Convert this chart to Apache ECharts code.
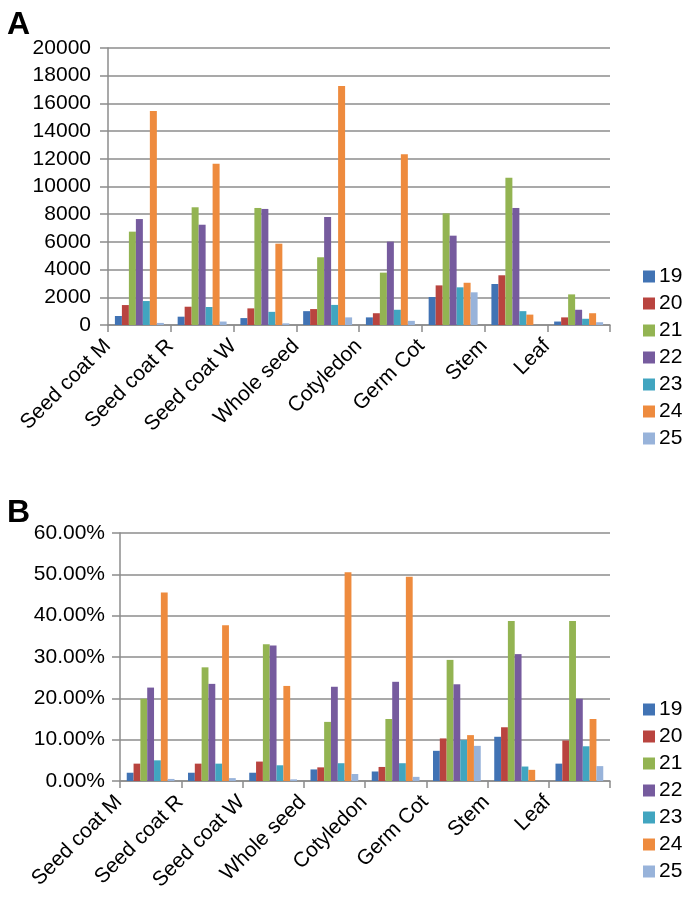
<!DOCTYPE html>
<html><head><meta charset="utf-8">
<script src="https://cdn.jsdelivr.net/npm/echarts@6/dist/echarts.min.js"></script>
<style>html,body{margin:0;padding:0;background:#fff}#c{width:685px;height:905px}</style>
</head><body><div id="c"></div>
<script>
const categories = ['Seed coat M','Seed coat R','Seed coat W','Whole seed','Cotyledon','Germ Cot','Stem','Leaf'];
const seriesNames = ['19','20','21','22','23','24','25'];
const colors = ['#4173B4','#B9443F','#93B452','#765B9E','#41A5C0','#EE8B3E','#98B3DA'];

// Panel A: counts
const a19 = [650, 600, 500, 1000, 550, 2020, 2960, 250];
const a20 = [1440, 1320, 1200, 1150, 850, 2860, 3590, 550];
const a21 = [6740, 8500, 8450, 4890, 3780, 8060, 10640, 2210];
const a22 = [7650, 7240, 8380, 7800, 6020, 6450, 8450, 1100];
const a23 = [1730, 1300, 950, 1450, 1100, 2720, 1000, 450];
const a24 = [15450, 11650, 5870, 17260, 12320, 3050, 750, 850];
const a25 = [150, 250, 120, 550, 300, 2360, 0, 200];

// Panel B: percentages
const b19 = [2.0, 2.0, 2.0, 2.8, 2.3, 7.3, 10.7, 4.2];
const b20 = [4.2, 4.2, 4.7, 3.3, 3.4, 10.3, 13.0, 9.8];
const b21 = [19.9, 27.5, 33.1, 14.3, 15.0, 29.3, 38.7, 38.7];
const b22 = [22.6, 23.5, 32.8, 22.8, 24.0, 23.4, 30.7, 19.9];
const b23 = [5.0, 4.2, 3.8, 4.3, 4.3, 9.9, 3.5, 8.4];
const b24 = [45.6, 37.7, 23.0, 50.5, 49.4, 11.1, 2.7, 15.0];
const b25 = [0.5, 0.7, 0.4, 1.7, 1.0, 8.5, 0, 3.6];

const aData = [a19,a20,a21,a22,a23,a24,a25];
const bData = [b19,b20,b21,b22,b23,b24,b25];

const FONT = "'Liberation Sans', Arial, Helvetica, sans-serif";
const gridColor = '#8c8c8c';

function xAxis(gi){
  return {
    type:'category', gridIndex:gi, data:categories,
    axisLine:{lineStyle:{color:gridColor,width:1.5}},
    axisTick:{show:true,length:7,lineStyle:{color:gridColor,width:1.5}},
    axisLabel:{rotate:45,fontSize:21,color:'#000',fontFamily:FONT,margin:-14,interval:0,
      padding:[0,45,42,0]}
  };
}
function yAxis(gi,max,interval,fmt,margin){
  return {
    type:'value', gridIndex:gi, min:0, max:max, interval:interval,
    axisLine:{show:true,lineStyle:{color:gridColor,width:1.5}},
    axisTick:{show:true,length:8,lineStyle:{color:gridColor,width:1.5}},
    splitLine:{show:true,lineStyle:{color:gridColor,width:1.5}},
    axisLabel:{fontSize:21,color:'#000',fontFamily:FONT,margin:margin,formatter:fmt}
  };
}

const series = [];
seriesNames.forEach((n,i)=>{
  series.push({name:n,type:'bar',xAxisIndex:0,yAxisIndex:0,data:aData[i],
    itemStyle:{color:colors[i]},barGap:'0%',barCategoryGap:'22%',animation:false});
});
seriesNames.forEach((n,i)=>{
  series.push({name:n,type:'bar',xAxisIndex:1,yAxisIndex:1,data:bData[i],
    itemStyle:{color:colors[i]},barGap:'0%',barCategoryGap:'22%',animation:false});
});

function legend(top){
  return {orient:'vertical',left:638,top:top,itemWidth:12,itemHeight:12,itemGap:6,
    icon:'rect',data:seriesNames,selectedMode:false,
    textStyle:{fontSize:21,color:'#000',fontFamily:FONT,padding:[0,0,0,-1]}};
}

const chart = echarts.init(document.getElementById('c'),null,{renderer:'canvas'});
chart.setOption({
  animation:false,
  backgroundColor:'#fff',
  title:[
    {text:'A',left:2,top:4,textStyle:{fontSize:32,fontWeight:'bold',color:'#000',fontFamily:FONT}},
    {text:'B',left:2,top:492,textStyle:{fontSize:32,fontWeight:'bold',color:'#000',fontFamily:FONT}}
  ],
  grid:[
    {left:108,top:48,width:502,height:277},
    {left:120,top:533,width:490,height:248}
  ],
  xAxis:[xAxis(0),xAxis(1)],
  yAxis:[
    yAxis(0,20000,2000,v=>String(v),17),
    yAxis(1,60,10,v=>v.toFixed(2)+'%',15)
  ],
  legend:[legend(261),legend(694)],
  series:series
});
</script>
</body></html>
